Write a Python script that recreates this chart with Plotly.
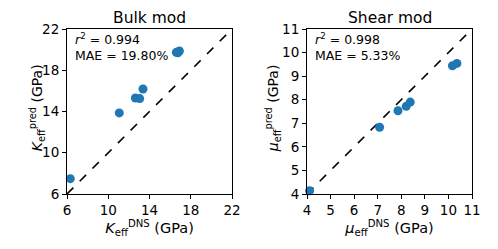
import plotly.graph_objects as go
from plotly.subplots import make_subplots

bulk_dns = [6.32, 11.07, 12.63, 13.05, 13.37, 16.6, 16.75, 16.9]
bulk_pred = [7.49, 13.86, 15.31, 15.25, 16.18, 19.74, 19.7, 19.87]
shear_dns = [4.11, 7.08, 7.86, 8.21, 8.38, 10.17, 10.36]
shear_pred = [4.14, 6.83, 7.53, 7.72, 7.9, 9.44, 9.54]
bulk_range = [6, 22]
shear_range = [4, 11]
bulk_ticks = [6, 10, 14, 18, 22]
shear_ticks = [4, 5, 6, 7, 8, 9, 10, 11]
titles = ["Bulk mod", "Shear mod"]
bulk_stats = ["<i>r</i><sup>2</sup> = 0.994", "MAE = 19.80%"]
shear_stats = ["<i>r</i><sup>2</sup> = 0.998", "MAE = 5.33%"]
x_titles = ["<i>K</i><sub>eff</sub><sup>DNS</sup> (GPa)", "<i>μ</i><sub>eff</sub><sup>DNS</sup> (GPa)"]
y_titles = ["<i>K</i><sub>eff</sub><sup>pred</sup> (GPa)", "<i>μ</i><sub>eff</sub><sup>pred</sup> (GPa)"]

FONT = "DejaVu Sans"
BLUE = "#1f77b4"

fig = make_subplots(rows=1, cols=2, horizontal_spacing=0.1852)

TF = dict(family=FONT, size=14, color="black")
yshifts = [-30, -34]
for col, (xd, yd, rng, ticks, stats) in enumerate(
    [(bulk_dns, bulk_pred, bulk_range, bulk_ticks, bulk_stats),
     (shear_dns, shear_pred, shear_range, shear_ticks, shear_stats)], start=1):
    fig.add_trace(go.Scatter(x=rng, y=rng, mode="lines",
                             line=dict(color="black", width=1.6, dash="dash"),
                             showlegend=False), row=1, col=col)
    fig.add_trace(go.Scatter(x=xd, y=yd, mode="markers",
                             marker=dict(color=BLUE, size=9),
                             showlegend=False, cliponaxis=False), row=1, col=col)
    axkw = dict(range=rng, tickvals=ticks, showgrid=False, zeroline=False,
                showline=True, linecolor="black", linewidth=1, mirror=True,
                ticks="outside", ticklen=4, tickcolor="black", automargin=False,
                tickfont=dict(family=FONT, size=13.5, color="black"))
    fig.update_xaxes(**axkw, row=1, col=col,
                     title=dict(text=x_titles[col - 1], standoff=0,
                                font=dict(family=FONT, size=14.5, color="black")))
    fig.update_yaxes(**axkw, row=1, col=col)
    xref = "x domain" if col == 1 else "x2 domain"
    yref = "y domain" if col == 1 else "y2 domain"
    for i, s in enumerate(stats):
        fig.add_annotation(x=0.035, y=1.0 - i * 0.105, xref=xref, yref=yref,
                           text=s, showarrow=False, xanchor="left", yanchor="top",
                           font=dict(family=FONT, size=12.5, color="black"))
    fig.add_annotation(x=0.5, y=1.0, xref=xref, yref=yref, text=titles[col - 1],
                       showarrow=False, xanchor="center", yanchor="bottom",
                       borderpad=1,
                       font=dict(family=FONT, size=15.5, color="black"))
    fig.add_annotation(x=0, y=0.52, xref=xref, yref=yref, text=y_titles[col - 1],
                       showarrow=False, xanchor="center", yanchor="middle",
                       textangle=-90, xshift=yshifts[col - 1], font=TF)

fig.update_layout(width=498, height=249, margin=dict(l=67, r=26, t=29, b=55),
                  plot_bgcolor="white", paper_bgcolor="white",
                  font=dict(family=FONT, color="black"))

fig.write_html("out.html", config={"displayModeBar": False},
               post_script="document.body.style.margin='0';document.body.style.overflow='hidden';")
